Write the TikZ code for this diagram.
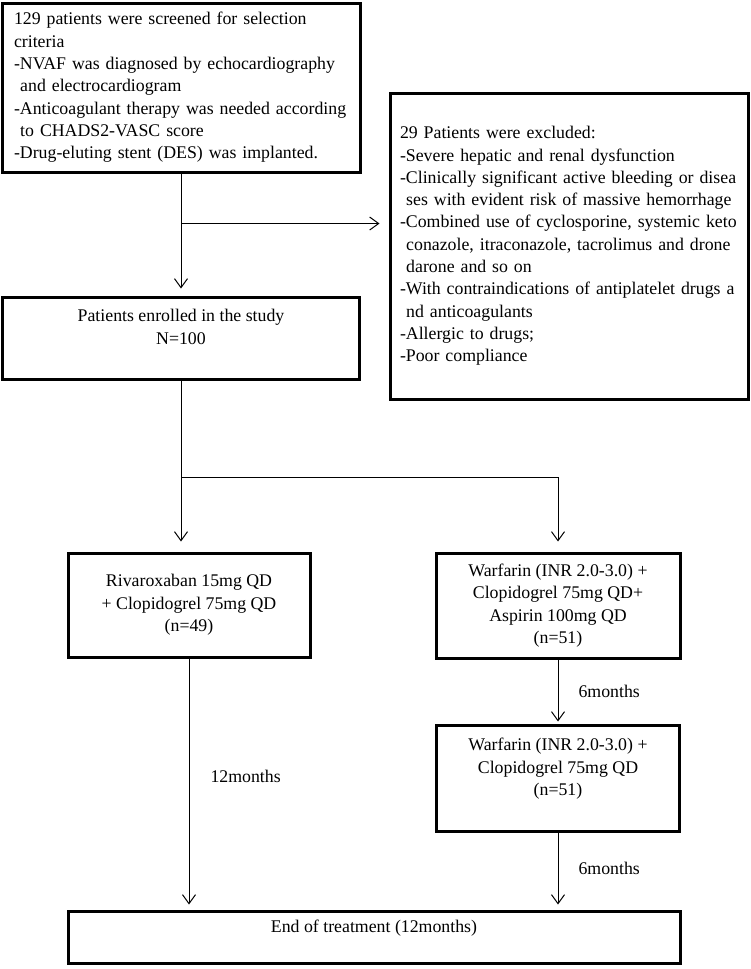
\documentclass[tikz,border=0pt]{standalone}
\usepackage{fontspec}
\setmainfont{Liberation Serif}
\usepackage{tikz}
\usetikzlibrary{calc,arrows.meta}
\tikzstyle{stage} = [draw, rectangle, line width=3pt, inner sep=0pt, align=center]
\tikzstyle{link} = [line width=1pt, -{Straight Barb[length=9pt,width=13pt,line width=1pt]}]
\tikzstyle{month} = [anchor=west, inner sep=0pt]

\begin{document}
\begin{tikzpicture}[x=1pt, y=-1pt, font=\fontsize{17.8}{22.3}\selectfont]
    \useasboundingbox (0,0) rectangle (750,969);
    \node[stage, minimum width=358, minimum height=169, text width=334, align=left] (screen) at (181,87.5)
        {129 patients were screened for selection\\
         criteria\\
         -NVAF was diagnosed by echocardiography\\
         \hspace*{0.35em}and electrocardiogram\\
         -Anticoagulant therapy was needed according\\
         \hspace*{0.35em}to CHADS2-VASC score\\
         -Drug-eluting stent (DES) was implanted.};
    \node[stage, minimum width=358, minimum height=306, text width=338, align=left] (excluded) at (569,246)
        {29 Patients were excluded:\\
         -Severe hepatic and renal dysfunction\\
         -Clinically significant active bleeding or disea\\
         \hspace*{0.35em}ses with evident risk of massive hemorrhage\\
         -Combined use of cyclosporine, systemic keto\\
         \hspace*{0.35em}conazole, itraconazole, tacrolimus and drone\\
         \hspace*{0.35em}darone and so on\\
         -With contraindications of antiplatelet drugs a\\
         \hspace*{0.35em}nd anticoagulants\\
         -Allergic to drugs;\\
         -Poor compliance};
    \node[stage, minimum width=357, minimum height=82] (enrolled) at (181,338)
        {Patients enrolled in the study\\ N=100\\ \mbox{}};
    \node[stage, minimum width=242, minimum height=104] (rivaroxaban) at (189,605)
        {Rivaroxaban 15mg QD\\ + Clopidogrel 75mg QD\\ (n=49)};
    \node[stage, minimum width=244, minimum height=105] (warfarinA) at (558,605.5)
        {Warfarin (INR 2.0-3.0) +\\ Clopidogrel 75mg QD+\\ Aspirin 100mg QD\\ (n=51)};
    \node[stage, minimum width=243, minimum height=106] (warfarinB) at (558,778)
        {Warfarin (INR 2.0-3.0) +\\ Clopidogrel 75mg QD\\ (n=51)\\ \mbox{}};
    \node[stage, minimum width=612, minimum height=52] (treatment) at (374,937)
        {End of treatment (12months)\\ \mbox{}};

    % screening -> enrolled, with exclusions branching off
    \coordinate (branch) at ($(screen.south)!0.41!(enrolled.north)$);
    \draw[link, shorten >=7pt] (screen.south) -- (enrolled.north);
    \draw[link, shorten >=9pt] (branch) -- (branch -| excluded.west);

    % randomisation
    \coordinate (split) at ($(enrolled.south)+(0,97)$);
    \draw[line width=1pt] (enrolled.south) -- (split);
    \draw[link, shorten >=10pt] (split) -- (split |- rivaroxaban.north);
    \draw[link, shorten >=10pt] (split) -| (warfarinA.north);

    % follow-up
    \draw[link, shorten >=5pt] (rivaroxaban.south) -- (rivaroxaban.south |- treatment.north)
        node[month, pos=0.47, xshift=21] {12months};
    \draw[link, shorten >=2pt] (warfarinA.south) -- (warfarinB.north)
        node[month, pos=0.5, xshift=20] {6months};
    \draw[link, shorten >=5pt] (warfarinB.south) -- (warfarinB.south |- treatment.north)
        node[month, pos=0.46, xshift=20] {6months};
\end{tikzpicture}
\end{document}
